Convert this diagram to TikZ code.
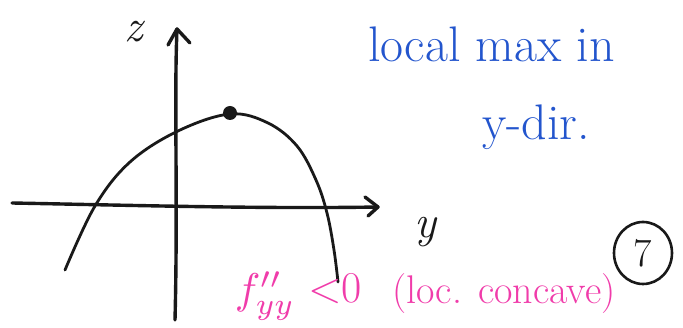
\documentclass[tikz,border=0pt]{standalone}
\usepackage{fontspec}
\usepackage{graphicx}
\usetikzlibrary{shapes.geometric}
\definecolor{inkblue}{RGB}{35,85,205}
\definecolor{inkpink}{RGB}{240,60,170}
\definecolor{inkblack}{RGB}{25,25,25}
\begin{document}
\begin{tikzpicture}[x=1pt,y=-1pt,
  ink/.style={draw=inkblack,line width=3.4pt,line cap=round,line join=round},
  thin ink/.style={draw=inkblack,line width=2.8pt,line cap=round,line join=round},
  bluetext/.style={text=inkblue,font=\fontsize{50}{54}\selectfont,inner sep=0pt},
  pinktext/.style={text=inkpink,font=\fontsize{40}{44}\selectfont,inner sep=0pt},
  axislabel/.style={text=inkblack,font=\itshape\fontsize{46}{50}\selectfont,inner sep=0pt}]
\useasboundingbox (0,0) rectangle (683,328);
% axes
\coordinate (zbot) at (175,320);
\coordinate (ztop) at (177,29);
\coordinate (yleft) at (12,203);
\coordinate (yright) at (378,207);
\draw[ink] (zbot) .. controls (178,200) and (174,100) .. (ztop);
\draw[ink] (168,45) -- (ztop) -- (190,43);
\draw[ink] (yleft) .. controls (120,205) and (260,209) .. (yright);
\draw[ink] (365,197) -- (yright) -- (368,216);
% curve
\draw[thin ink] plot[smooth,tension=0.6] coordinates {(65,270) (95,206) (130,162) (178,131) (230,114) (268,123) (297,146) (316,180) (327,213) (334,250) (338,282)};
\node[circle,fill=inkblack,minimum size=14pt,inner sep=0pt] (maxpt) at (230,113) {};
% labels
\node[axislabel] (zlab) at (134,32) {z};
\node[axislabel] (ylab) at (425,232) {y};
\node[bluetext,anchor=base west] (t1) at (368,62) {local max in};
\node[bluetext,anchor=base west] (t2) at (482,140) {y-dir.};
\node[text=inkpink,inner sep=0pt,anchor=base west,scale=4.3] (fyy) at (234,304) {$f''_{yy}$};
\node[pinktext,font=\fontsize{44}{48}\selectfont,anchor=base west] (lt) at (308,303) {<0};
\node[pinktext,anchor=base west] (t3) at (392,304) {(loc. concave)};
\node[draw=inkblack,line width=2.6pt,ellipse,minimum width=58pt,minimum height=62pt,inner sep=0pt,font=\fontsize{40}{44}\selectfont,text=inkblack] (seven) at (643,253) {7};
\end{tikzpicture}
\end{document}
